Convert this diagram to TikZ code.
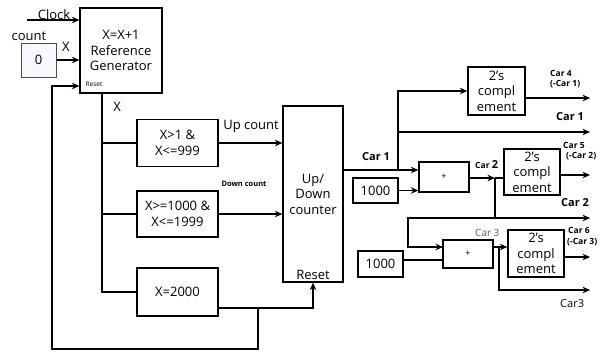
\documentclass[tikz,border=0pt]{standalone}
\usepackage{fontspec}
\setmainfont{Open Sans}
\usetikzlibrary{arrows.meta}
\begin{document}
\begin{tikzpicture}[x=1pt,y=-1pt,
  blk/.style={draw,line width=1.3pt,inner sep=0pt,align=center,font=\fontsize{13}{15.5}\selectfont},
  con/.style={line width=1.6pt},
  arr/.style={con,-{Stealth[length=7.5pt,width=6.5pt]}},
  lbl/.style={inner sep=0pt,font=\fontsize{13}{15}\selectfont},
  tiny/.style={inner sep=0pt,font=\bfseries\fontsize{8.5}{10}\selectfont,align=left},
  carlbl/.style={inner sep=0pt,font=\bfseries\fontsize{11}{13}\selectfont}]
\useasboundingbox[fill=white] (0,0) rectangle (615,351);

% blocks
\node[blk,minimum width=82pt,minimum height=85pt] (refgen) at (121,50.5) {X=X+1\\Reference\\Generator};
\node[blk,draw=black!70,fill=blue!3,line width=1pt,minimum width=35pt,minimum height=34pt] (cnt) at (38.5,60) {0};
\node[blk,minimum width=81pt,minimum height=47pt] (b1) at (177.5,143) {X>1 \&\\X<=999};
\node[blk,minimum width=81pt,minimum height=46pt] (b2) at (177.5,214) {X>=1000 \&\\X<=1999};
\node[blk,minimum width=81pt,minimum height=48pt] (b3) at (177.5,292) {X=2000};
\node[blk,minimum width=60pt,minimum height=176pt] (udc) at (313,194) {Up/\\Down\\counter};
\node[lbl] (rst) at (313,275) {Reset};
\node[blk,minimum width=57pt,minimum height=48pt] (c1) at (496.5,91) {2’s\\compl\\ement};
\node[blk,minimum width=45pt,minimum height=25pt] (k1) at (375.5,190.5) {1000};
\node[blk,minimum width=50pt,minimum height=30pt,font=\fontsize{9}{10}\selectfont] (add1) at (444,177) {+};
\node[blk,minimum width=56pt,minimum height=46pt] (c2) at (532,172) {2’s\\compl\\ement};
\node[blk,minimum width=50pt,minimum height=28pt,font=\fontsize{9}{10}\selectfont] (add2) at (468,254) {+};
\node[blk,minimum width=45pt,minimum height=26pt] (k2) at (380.5,264) {1000};
\node[blk,minimum width=56pt,minimum height=47pt] (c3) at (536,253.5) {2’s\\compl\\ement};

% coordinates
\coordinate (clk) at (27,20);
\coordinate (xt) at (102,93);
\coordinate (j5) at (258,308);
\coordinate (fb) at (52,349);
\coordinate (rin) at (52,86);
\coordinate (j1) at (398,170);
\coordinate (o1) at (590,132);
\coordinate (o4) at (590,98);
\coordinate (j2) at (495,178);
\coordinate (o5) at (590,175);
\coordinate (j3) at (408,218);
\coordinate (o2) at (590,218);
\coordinate (a2in) at (443,247);
\coordinate (j4) at (499,247);
\coordinate (o3) at (590,290);
\coordinate (o6) at (590,257);
\coordinate (k2o) at (403,260);

% left connectors
\draw[arr] (clk) -- (clk -| refgen.west);
\draw[arr] (cnt.east) -- (cnt.east -| refgen.west);
\draw[con] (xt) |- (b3.west);
\draw[con] (xt |- b1.west) -- (b1.west);
\draw[con] (xt |- b2.west) -- (b2.west);
\draw[arr] (b1.east) -- (b1.east -| udc.west);
\draw[arr] (b2.east) -- (b2.east -| udc.west);
\draw[arr] (b3.east |- j5) -| (udc.south);
\draw[arr] (j5) |- (fb) |- (rin -| refgen.west);

% right connectors
\draw[arr] (udc.east |- j1) -- (add1.west |- j1);
\draw[arr] (j1) |- (c1.west);
\draw[arr] (j1 |- o1) -- (o1);
\draw[arr] (c1.east |- o4) -- (o4);
\draw[arr] (k1.east) -- (k1.east -| add1.west);
\draw[arr] (add1.east |- j2) -- (j2);
\draw[con] (j2) -- (c2.west |- j2);
\draw[arr] (c2.east |- o5) -- (o5);
\draw[arr] (j2) |- (o2);
\draw[arr] (j2 |- j3) -- (j3) |- (a2in);
\draw[con] (k2o) -- (k2o -| add2.west);
\draw[arr] (add2.east |- j4) -- (c3.west |- j4);
\draw[arr] (j4) |- (o3);
\draw[arr] (c3.east |- o6) -- (o6);

% labels
\node[lbl] (lclk) at (54,15) {Clock};
\node[lbl] (lcnt) at (29,36) {count};
\node[lbl] (lx1) at (66,47) {X};
\node[inner sep=0pt,font=\fontsize{6.5}{7}\selectfont] (lrst) at (94,84.5) {Reset};
\node[lbl] (lx2) at (117,107) {X};
\node[lbl] (lup) at (251,126) {Up count};
\node[inner sep=0pt,font=\bfseries\fontsize{7.5}{9}\selectfont] (ldn) at (244,184) {Down count};
\node[carlbl] (lc1a) at (376,157) {Car 1};
\node[tiny,anchor=west] (lc4) at (550,73) {Car 4};
\node[tiny,anchor=west] (lc4b) at (550,84) {(-Car 1)};
\node[carlbl,anchor=west] (lc1b) at (556,117) {Car 1};
\node[inner sep=0pt,anchor=west,font=\bfseries\fontsize{8.5}{10}\selectfont] (lc2a) at (475,165) {Car \fontsize{11}{13}\selectfont 2};
\node[tiny,anchor=west] (lc5) at (563,145) {Car 5};
\node[tiny,anchor=west] (lc5b) at (566,156) {(-Car 2)};
\node[carlbl,anchor=west] (lc2b) at (561,203) {Car 2};
\node[inner sep=0pt,anchor=west,text=black!65,font=\fontsize{10}{12}\selectfont] (lc3a) at (475,233) {Car 3};
\node[tiny,anchor=west] (lc6) at (568,230) {Car 6};
\node[tiny,anchor=west] (lc6b) at (567,242) {(-Car 3)};
\node[inner sep=0pt,anchor=west,font=\fontsize{11}{13}\selectfont] (lc3b) at (560,304) {Car3};
\end{tikzpicture}
\end{document}
